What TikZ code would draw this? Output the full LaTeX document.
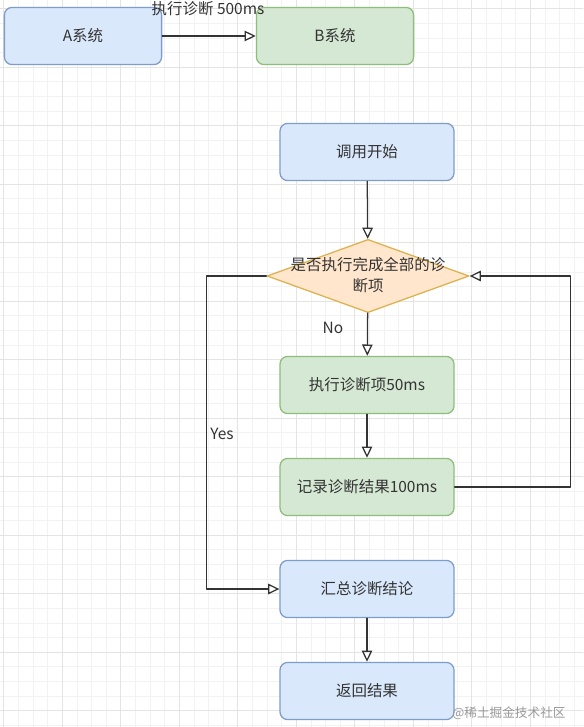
\documentclass[tikz,border=0pt]{standalone}
\usepackage{xcolor}
\usepackage{fontspec}
\newfontfamily\cjk{Noto Sans CJK SC}
\usepackage{tikz}
\usetikzlibrary{shapes.geometric}
\usetikzlibrary{arrows.meta}

\begin{document}
\begin{tikzpicture}[
      % un'unita' = un pixel del riferimento
      x=0.025cm,
      y=-0.025cm,
      line join=round,
      line cap=round
  ]

  % Parametri della griglia di sfondo
  \def\gstep{14.625}  % passo fine
  \def\gx{3.75}       % scostamento orizzontale
  \def\gy{8.6}        % scostamento verticale

  % Palette stile draw.io
  \definecolor{flowbluefill}{HTML}{DAE8FC}
  \definecolor{flowblueline}{HTML}{7F9DCB}
  \definecolor{flowgreenfill}{HTML}{D5E8D4}
  \definecolor{flowgreenline}{HTML}{8CBF7A}
  \definecolor{flowdecfill}{HTML}{FFE6CC}
  \definecolor{flowdecline}{HTML}{DDB24E}
  \definecolor{flowtext}{HTML}{333333}
  \definecolor{gridminor}{HTML}{F2F2F2}
  \definecolor{gridmajor}{HTML}{E4E4E4}

  \tikzset{
      box/.style={rectangle, rounded corners=5.5pt, line width=0.9pt,
                  minimum width=4.35cm, minimum height=1.43cm,
                  font=\cjk\fontsize{11}{14}\selectfont, text=flowtext},
      bluebox/.style={box, fill=flowbluefill, draw=flowblueline},
      greenbox/.style={box, fill=flowgreenfill, draw=flowgreenline},
      decision/.style={diamond, inner sep=0pt, line width=0.9pt,
                  minimum width=5.05cm, minimum height=1.83cm,
                  fill=flowdecfill, draw=flowdecline},
      flowtag/.style={font=\cjk\fontsize{11}{15.5}\selectfont, text=flowtext, inner sep=1pt},
      flow/.style={draw=flowtext, line width=0.9pt,
                   -{Triangle[open, length=8pt, width=7.5pt]}}
  }

  \useasboundingbox (0,0) rectangle (583,727);
  \fill[white] (0,0) rectangle (583,727);

  % 1. Griglia di sfondo
  \foreach \i in {0,...,39} {
      \draw[gridminor, line width=0.4pt] ({\gx+\i*\gstep},0) -- ({\gx+\i*\gstep},727);
  }
  \foreach \j in {0,...,49} {
      \draw[gridminor, line width=0.4pt] (0,{\gy+\j*\gstep}) -- (583,{\gy+\j*\gstep});
  }
  \foreach \i in {0,4,...,39} {
      \draw[gridmajor, line width=0.6pt] ({\gx+\i*\gstep},0) -- ({\gx+\i*\gstep},727);
  }
  \foreach \j in {0,4,...,49} {
      \draw[gridmajor, line width=0.6pt] (0,{\gy+\j*\gstep}) -- (583,{\gy+\j*\gstep});
  }

  % 2. Chiamata tra sistemi
  \node[bluebox, minimum width=3.93cm] (sysA) at (83,36) {A系统};
  \node[greenbox, minimum width=3.93cm] (sysB) at (335,36) {B系统};
  \draw[flow] (sysA) -- (sysB);
  \node[flowtag] (calltag) at (208,9) {执行诊断 500ms};

  % 3. Flusso principale
  \node[bluebox] (start) at (367,152) {调用开始};
  \node[decision] (check) at (368,276) {};
  \node[flowtag, align=center] (checktext) at (368,275) {是否执行完成全部的诊\\断项};
  \node[greenbox] (run) at (367,385) {执行诊断项50ms};
  \node[greenbox] (record) at (367,487) {记录诊断结果100ms};
  \node[bluebox] (summary) at (367,589) {汇总诊断结论};
  \node[bluebox] (result) at (367,691) {返回结果};

  \draw[flow] (start) -- (check);
  \draw[flow] (check) -- (run);
  \draw[flow] (run) -- (record);
  \draw[flow] (summary) -- (result);

  % 4. Rami della decisione
  \draw[flow] (record.east) -- ++(116,0) |- (check.east);
  \draw[flow] (check.west) -- ++(-60,0) |- (summary.west);
  \node[flowtag] (notag) at (333,328) {No};
  \node[flowtag] (yestag) at (222,434) {Yes};

  % Filigrana
  \node[font=\cjk\fontsize{9}{11}\selectfont, text=black!40] (mark) at (509,713) {@稀土掘金技术社区};

\end{tikzpicture}
\end{document}
